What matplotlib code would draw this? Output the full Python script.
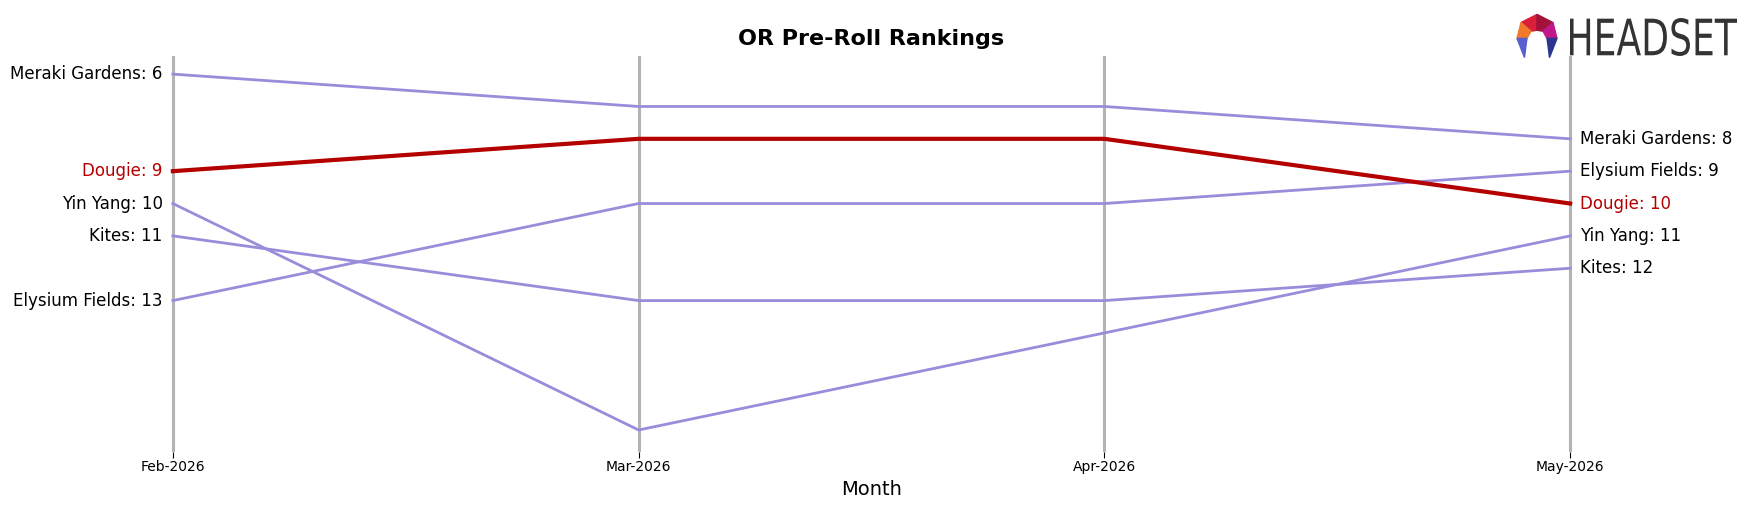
import numpy as np
import matplotlib.pyplot as plt
from matplotlib.patches import Polygon, PathPatch
from matplotlib.textpath import TextPath

# Data
months = ['Feb-2026', 'Mar-2026', 'Apr-2026', 'May-2026']
brands = ['Meraki Gardens', 'Dougie', 'Yin Yang', 'Kites', 'Elysium Fields']
meraki = [6, 7, 7, 8]
dougie = [9, 8, 8, 10]
yin_yang = [10, 17, 14, 11]
kites = [11, 13, 13, 12]
elysium = [13, 10, 10, 9]
ranks = [meraki, dougie, yin_yang, kites, elysium]
highlight = 'Dougie'

purple = '#9b8cdb'
red = '#b50000'

fig = plt.figure(figsize=(17.52, 5.07), dpi=100)
ax = fig.add_axes([103 / 1752, 1 - 452 / 507, (1640 - 103) / 1752, (452 - 56) / 507])

x = np.arange(len(months))
for xi in x:
    ax.axvline(xi, color='#b3b3b3', lw=2.2, zorder=1)

for name, r in zip(brands, ranks):
    if name == highlight:
        ax.plot(x, r, color=red, lw=3, zorder=3)
    else:
        ax.plot(x, r, color=purple, lw=2, zorder=2)
    c = red if name == highlight else 'black'
    ax.text(x[0] - 0.022, r[0], f'{name}: {r[0]}', ha='right', va='center',
            fontsize=12, color=c)
    ax.text(x[-1] + 0.022, r[-1], f'{name}: {r[-1]}', ha='left', va='center',
            fontsize=12, color=c)

ax.set_xlim(-0.15, 3.15)
ax.set_ylim(17.68, 5.44)
ax.set_xticks(x)
ax.set_xticklabels(months, fontsize=10)
ax.set_yticks([])
for s in ax.spines.values():
    s.set_visible(False)
ax.tick_params(axis='x', length=4, pad=2)
ax.set_xlabel('Month', fontsize=14, labelpad=4)
ax.set_title('OR Pre-Roll Rankings', fontsize=16, fontweight='bold', pad=8)

# logo icon
lax = fig.add_axes([1512 / 1752, 1 - 60 / 507, 50 / 1752, 48 / 507])
lax.set_xlim(0, 1)
lax.set_ylim(0, 1)
lax.axis('off')
lax.add_patch(Polygon([(0.5, 0.95), (0.18, 0.78), (0.38, 0.6), (0.5, 0.62)], color='#d81e3a'))
lax.add_patch(Polygon([(0.5, 0.95), (0.82, 0.78), (0.62, 0.6), (0.5, 0.62)], color='#a3123a'))
lax.add_patch(Polygon([(0.18, 0.78), (0.1, 0.45), (0.3, 0.45), (0.38, 0.6)], color='#f07a2a'))
lax.add_patch(Polygon([(0.82, 0.78), (0.9, 0.45), (0.7, 0.45), (0.62, 0.6)], color='#c0188a'))
lax.add_patch(Polygon([(0.1, 0.45), (0.3, 0.45), (0.28, 0.3), (0.25, 0.05)], color='#5a5fd0'))
lax.add_patch(Polygon([(0.9, 0.45), (0.7, 0.45), (0.72, 0.3), (0.75, 0.05)], color='#2a3590'))

# logo word, stretched into its box
tax = fig.add_axes([1570 / 1752, 1 - 56 / 507, (1737 - 1570) / 1752, (56 - 18) / 507])
tax.axis('off')
tp = TextPath((0, 0), 'HEADSET', size=10, prop={'family': 'DejaVu Sans'})
bb = tp.get_extents()
tax.add_patch(PathPatch(tp, color='#333333', lw=0))
tax.set_xlim(bb.x0, bb.x1)
tax.set_ylim(bb.y0, bb.y1)

fig.savefig('out.png', dpi=100)
